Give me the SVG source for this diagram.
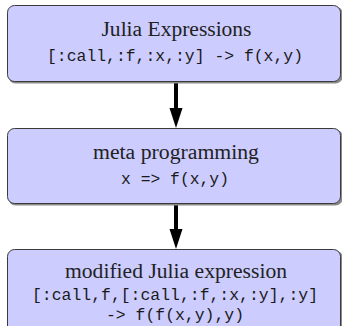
<svg xmlns="http://www.w3.org/2000/svg" width="342" height="326" viewBox="0 0 342 326">
<style>
.box{fill:#ccccff;stroke:#3a3a3a;stroke-width:1}
.shadow{fill:#8a8a8a}
.serif{font-family:"Liberation Serif","Times New Roman",serif;font-size:20.5px;fill:#222;text-anchor:middle}
.mono{font-family:"Liberation Mono","Courier New",monospace;font-size:16.5px;fill:#1a1a1a;text-anchor:middle}
.conn{stroke:#000;stroke-width:4;fill:none}
.head{fill:#000}
</style>
<g id="connectors">
<path class="conn" d="M176,82 L176,109"/>
<path class="head" d="M169.5,108 L182.5,108 L176,128 Z"/>
<path class="conn" d="M176,204 L176,230"/>
<path class="head" d="M169.5,229 L182.5,229 L176,249 Z"/>
</g>
<g id="node1">
<rect class="shadow" x="8.5" y="6.5" width="334" height="77" rx="7"/>
<rect class="box" x="7.5" y="5.5" width="333" height="76" rx="7"/>
<text class="serif" x="176.5" y="36" textLength="150" lengthAdjust="spacingAndGlyphs">Julia Expressions</text>
<text class="mono" x="175" y="61" textLength="256" lengthAdjust="spacingAndGlyphs">[:call,:f,:x,:y] -&gt; f(x,y)</text>
</g>
<g id="node2">
<rect class="shadow" x="8.5" y="129.5" width="334" height="76" rx="7"/>
<rect class="box" x="7.5" y="128.5" width="333" height="75" rx="7"/>
<text class="serif" x="176" y="159" textLength="166" lengthAdjust="spacingAndGlyphs">meta programming</text>
<text class="mono" x="175" y="184" textLength="108" lengthAdjust="spacingAndGlyphs">x =&gt; f(x,y)</text>
</g>
<g id="node3">
<rect class="shadow" x="8.5" y="250.5" width="334" height="90" rx="7"/>
<rect class="box" x="7.5" y="249.5" width="333" height="90" rx="7"/>
<text class="serif" x="176" y="278" textLength="222" lengthAdjust="spacingAndGlyphs">modified Julia expression</text>
<text class="mono" x="175" y="300" textLength="286" lengthAdjust="spacingAndGlyphs">[:call,f,[:call,:f,:x,:y],:y]</text>
<text class="mono" x="175" y="320" textLength="138" lengthAdjust="spacingAndGlyphs">-&gt; f(f(x,y),y)</text>
</g>
</svg>
